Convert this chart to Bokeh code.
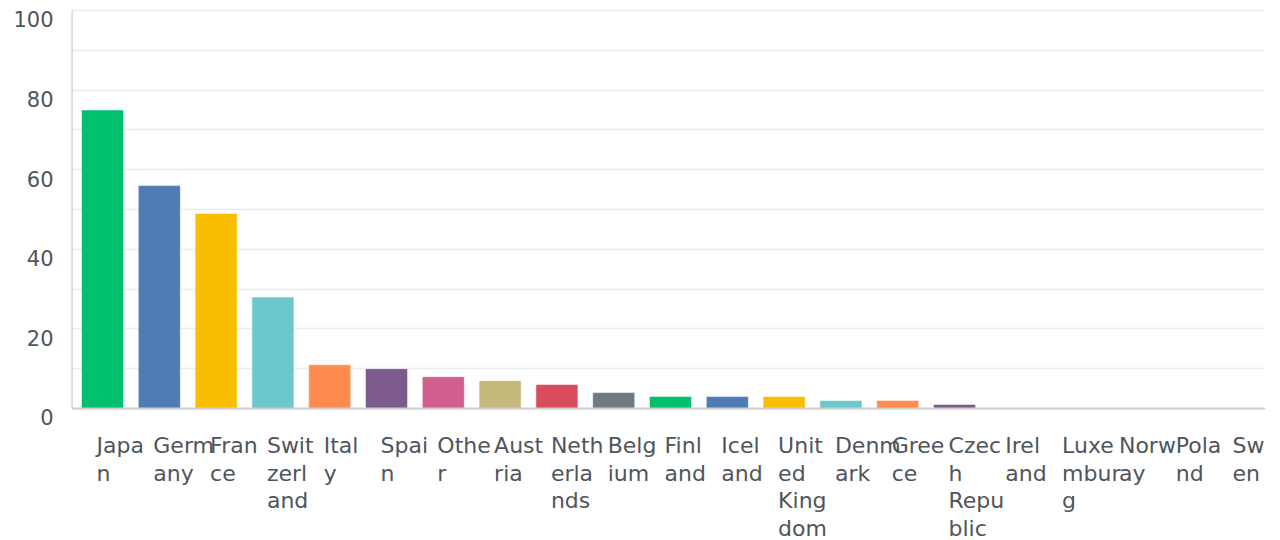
from bokeh.plotting import figure
from bokeh.models import Range1d, LinearAxis, FixedTicker, Grid, Span, ColumnDataSource
from bokeh.core.properties import value
from bokeh.embed import file_html
from bokeh.resources import INLINE

categories = ["Japan", "Germany", "France", "Switzerland", "Italy", "Spain", "Other",
              "Austria", "Netherlands", "Belgium", "Finland", "Iceland", "United Kingdom",
              "Denmark", "Greece", "Czech Republic", "Ireland", "Luxemburg", "Norway",
              "Poland", "Sweden"]
values = [75, 56, 49, 28, 11, 10, 8, 7, 6, 4, 3, 3, 3, 2, 2, 1, 0, 0, 0, 0, 0]
palette = ["#00bf6f", "#507cb6", "#f9be00", "#6bc8cd", "#ff8b4f", "#7d5b8e",
           "#d35f90", "#c6b77a", "#d84c5b", "#717a82"]
y_ticks = [0, 20, 40, 60, 80, 100]
grid_ticks = [10, 20, 30, 40, 50, 60, 70, 80, 90, 100]

FONT = "DejaVu Sans"
TEXT_COLOR = "#50555b"

x_idx = list(range(len(categories)))
colors = [palette[i % len(palette)] for i in x_idx]

y_start, y_end = -33.17, 102.51
x_start, x_end = -0.546, 20.475

p = figure(width=1265, height=540, output_backend="svg", toolbar_location=None,
           x_range=Range1d(x_start, x_end), y_range=Range1d(y_start, y_end),
           x_axis_location=None, y_axis_location=None,
           min_border_left=71, min_border_right=0, min_border_top=0, min_border_bottom=0)
p.outline_line_color = None
p.xgrid.visible = False
p.ygrid.visible = False

# horizontal gridlines
grid = Grid(dimension=1, ticker=FixedTicker(ticks=grid_ticks),
            grid_line_color="#ececec", grid_line_width=1.5)
p.add_layout(grid)

# y tick labels on a shifted range (labels sit slightly below their gridlines)
d = 2.26
p.extra_y_ranges = {"lab": Range1d(y_start + d, y_end + d)}
yax = LinearAxis(y_range_name="lab", ticker=FixedTicker(ticks=y_ticks),
                 axis_line_color=None, major_tick_line_color=None,
                 minor_tick_line_color=None, major_label_standoff=12,
                 major_label_text_font=FONT, major_label_text_font_size="21px",
                 major_label_text_color=TEXT_COLOR)
p.add_layout(yax, "left")

# bars
src = ColumnDataSource(dict(x=x_idx, top=values, color=colors))
p.vbar(x="x", top="top", width=0.74, source=src, fill_color="color",
       line_color="white", line_alpha=0.5, line_width=1)

# axis lines
p.add_layout(Span(location=0, dimension="width", line_color="#cdcdcd", line_width=2))
p.segment(x0=[x_start], y0=[0], x1=[x_start], y1=[100], line_color="#d2d2d2", line_width=2.5)


# category labels, wrapped into 4-character chunks
def wrap(name, n=4):
    out = []
    for w in name.split(" "):
        out.extend(w[i:i + n] for i in range(0, len(w), n))
    return out

lx, ly, loff, ltxt = [], [], [], []
for i, name in enumerate(categories):
    for j, line in enumerate(wrap(name)):
        lx.append(i)
        ly.append(0)
        loff.append(37.5 + 27.5 * j)
        ltxt.append(line)

lsrc = ColumnDataSource(dict(x=lx, y=ly, yo=loff, text=ltxt))
p.text(x="x", y="y", text="text", source=lsrc, x_offset=-6, y_offset="yo",
       text_align="left", text_baseline="alphabetic",
       text_font=value(FONT), text_font_size="22px", text_color=TEXT_COLOR)

open("out.html", "w").write(file_html(p, INLINE))
